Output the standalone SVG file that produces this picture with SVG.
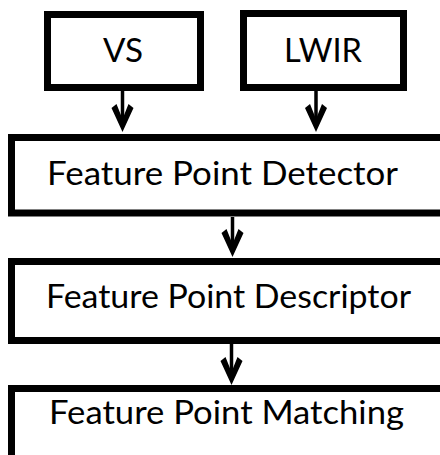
<svg xmlns="http://www.w3.org/2000/svg" width="440" height="455" viewBox="0 0 440 455">
  <style>
    .box { fill: #ffffff; stroke: #000000; stroke-width: 7; }
    .lbl { font-family: Lato, "Open Sans", sans-serif; font-size: 33px; fill: #000000; text-anchor: middle; }
    .conn { stroke: #000000; stroke-width: 3.5; fill: none; marker-end: url(#chev); }
  </style>
  <defs>
    <marker id="chev" markerUnits="userSpaceOnUse" markerWidth="40" markerHeight="40" viewBox="-36 -20 40 40" refX="-10" refY="0" orient="auto" overflow="visible">
      <polygon points="0,0 -24,-11 -28,-6 -13,0 -28,6 -24,11" fill="#000000"/>
    </marker>
  </defs>
  <rect x="0" y="0" width="440" height="455" fill="#ffffff"/>
  <g id="connectors">
    <line class="conn" x1="122.5" y1="91" x2="122.5" y2="122"/>
    <line class="conn" x1="316" y1="91" x2="316" y2="122"/>
    <line class="conn" x1="232.5" y1="217" x2="232.5" y2="247"/>
    <line class="conn" x1="231.5" y1="344" x2="231.5" y2="375"/>
  </g>
  <g id="vs">
    <rect class="box" x="47.5" y="14.5" width="153" height="73"/>
    <text class="lbl" x="123" y="62" textLength="40" lengthAdjust="spacingAndGlyphs">VS</text>
  </g>
  <g id="lwir">
    <rect class="box" x="243.5" y="13.5" width="160" height="74"/>
    <text class="lbl" x="323" y="62" textLength="78" lengthAdjust="spacingAndGlyphs">LWIR</text>
  </g>
  <g id="detector">
    <rect class="box" x="11.5" y="137.5" width="450" height="75.5"/>
    <text class="lbl" x="222.5" y="185" textLength="351" lengthAdjust="spacingAndGlyphs">Feature Point Detector</text>
  </g>
  <g id="descriptor">
    <rect class="box" x="11.5" y="261.5" width="450" height="79"/>
    <text class="lbl" x="228.5" y="308" textLength="365" lengthAdjust="spacingAndGlyphs">Feature Point Descriptor</text>
  </g>
  <g id="matching">
    <rect class="box" x="11.5" y="388.5" width="450" height="100"/>
    <text class="lbl" x="226.5" y="424" textLength="355" lengthAdjust="spacingAndGlyphs">Feature Point Matching</text>
  </g>
</svg>
